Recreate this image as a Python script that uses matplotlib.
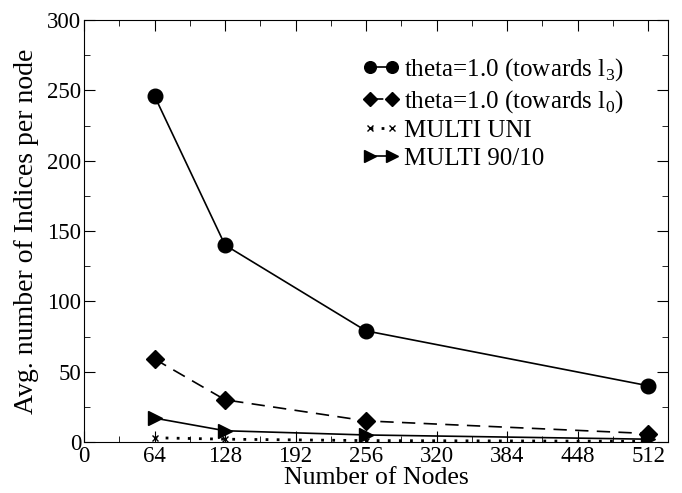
import matplotlib
matplotlib.use("Agg")
import matplotlib.pyplot as plt
import matplotlib.transforms as mtransforms
from matplotlib.ticker import MultipleLocator

plt.rcParams['font.family'] = ['Liberation Serif', 'DejaVu Serif']
plt.rcParams['mathtext.fontset'] = 'custom'
plt.rcParams['mathtext.rm'] = 'Liberation Serif'

# data
nodes = [64, 128, 256, 512]
theta_l3 = [246, 140, 79, 40]
theta_l0 = [59, 30, 15, 6]
multi_uni = [3, 2, 1, 0.5]
multi_9010 = [17, 8, 5, 2]

fig = plt.figure(figsize=(6.82, 4.93), dpi=100)
ax = fig.add_axes([84 / 682, 51 / 493, 584 / 682, 422 / 493])

ax.plot(nodes, theta_l3, color='black', lw=1.2, marker='o', ms=10.5,
        label='theta=1.0 (towards l$_{3}$)')
ax.plot(nodes, theta_l0, color='black', lw=1.2, ls=(0, (8, 5)), marker='D', ms=9,
        label='theta=1.0 (towards l$_{0}$)')
ax.plot(nodes, multi_uni, color='black', lw=2.0, ls=(0, (1, 3)), marker='x', ms=5,
        mew=1.0, label='MULTI UNI')
ax.plot(nodes, multi_9010, color='black', lw=1.2, marker='>', ms=10,
        label='MULTI 90/10')

ax.set_xlim(0, 530)
ax.set_ylim(0, 300)
ax.xaxis.set_major_locator(MultipleLocator(64))
ax.xaxis.set_minor_locator(MultipleLocator(32))
ax.yaxis.set_major_locator(MultipleLocator(50))
ax.yaxis.set_minor_locator(MultipleLocator(25))
ax.tick_params(which='both', direction='in', top=True, right=True, labelsize=16.5)
ax.tick_params(which='major', length=8)
ax.tick_params(which='minor', length=4)
ax.tick_params(axis='x', pad=3)
ax.tick_params(axis='y', pad=2)

# lift the y "0" a little so it does not sit on the x "0"
fig.canvas.draw()
lab0 = ax.get_yticklabels()[0]
lab0.set_transform(lab0.get_transform() + mtransforms.ScaledTranslation(-2 / 100, 4 / 100, fig.dpi_scale_trans))

ax.set_xlabel('Number of Nodes', fontsize=18.5, labelpad=0)
ax.set_ylabel('Avg. number of Indices per node', fontsize=20, labelpad=6)

ax.legend(loc='upper left', frameon=False, fontsize=18, numpoints=2,
          markerscale=0.8, handlelength=1.5, handletextpad=0.2, labelspacing=0.2,
          borderpad=0, borderaxespad=0,
          bbox_to_anchor=(362 / 682, 1 - 56 / 493), bbox_transform=fig.transFigure)

fig.savefig('out.png', dpi=100)
